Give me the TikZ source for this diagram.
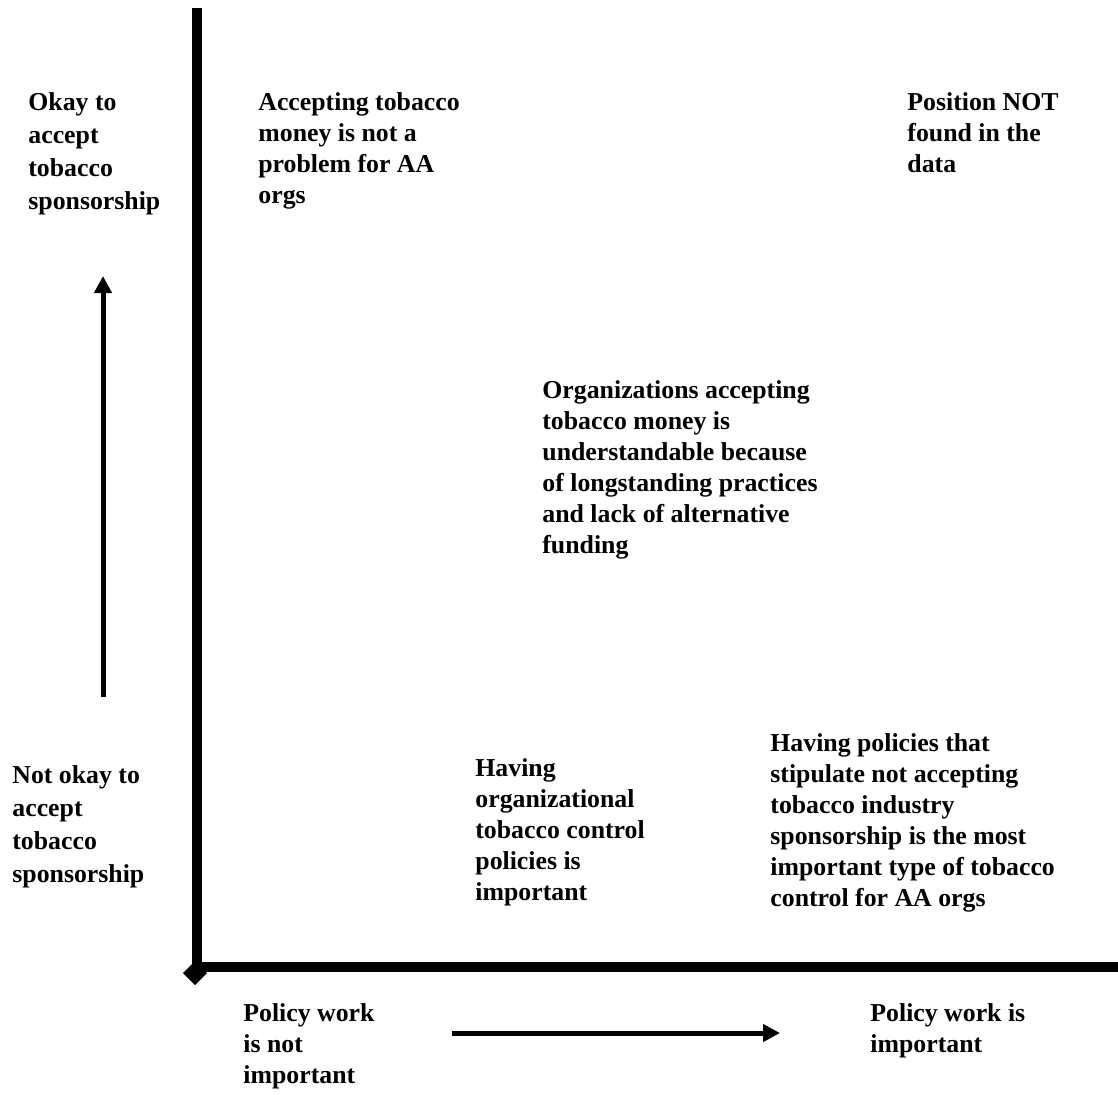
\documentclass[tikz,border=0pt]{standalone}
\usepackage{fontspec}
\setmainfont{Liberation Serif}
\usetikzlibrary{arrows.meta}
\tikzset{
  lbl/.style={anchor=north west, inner sep=0pt, align=left,
    font=\bfseries\fontsize{12.9pt}{15.5pt}\selectfont},
  lblwide/.style={lbl, font=\bfseries\fontsize{12.9pt}{16.6pt}\selectfont},
  axis/.style={line width=5pt},
  dirarrow/.style={line width=2.5pt, -{Triangle[length=8.5pt,width=8.5pt]}}
}
\begin{document}
\begin{tikzpicture}[x=0.5pt,y=-0.5pt]
\useasboundingbox (0,0) rectangle (1118,1094);
% axes
\coordinate (top) at (197,8);
\coordinate (origin) at (197,967);
\coordinate (right) at (1118,967);
\draw[axis] (top) -- (197,972);
\draw[axis] (192,967) -- (right);
\fill (195,961) -- (207,973) -- (195,985) -- (183,973) -- cycle;
% direction arrows
\coordinate (upS) at (103,697);
\coordinate (upE) at (103,276);
\draw[dirarrow] (upS) -- (upE);
\coordinate (rtS) at (452,1033);
\coordinate (rtE) at (780,1033);
\draw[dirarrow] (rtS) -- (rtE);
% labels
\node[lblwide] (okay) at (28,92) {Okay to\\accept\\tobacco\\sponsorship};
\node[lblwide] (notokay) at (12,765) {Not okay to\\accept\\tobacco\\sponsorship};
\node[lbl] (accept) at (258,92) {Accepting tobacco\\money is not a\\problem for AA\\orgs};
\node[lbl] (pos) at (907,92) {Position NOT\\found in the\\data};
\node[lbl] (org) at (542,380) {Organizations accepting\\tobacco money is\\understandable because\\of longstanding practices\\and lack of alternative\\funding};
\node[lbl] (having) at (475,758) {Having\\organizational\\tobacco control\\policies is\\important};
\node[lbl] (havpol) at (770,733) {Having policies that\\stipulate not accepting\\tobacco industry\\sponsorship is the most\\important type of tobacco\\control for AA orgs};
\node[lbl] (pwno) at (243,1003) {Policy work\\is not\\important};
\node[lbl] (pwyes) at (870,1003) {Policy work is\\important};
\end{tikzpicture}
\end{document}
